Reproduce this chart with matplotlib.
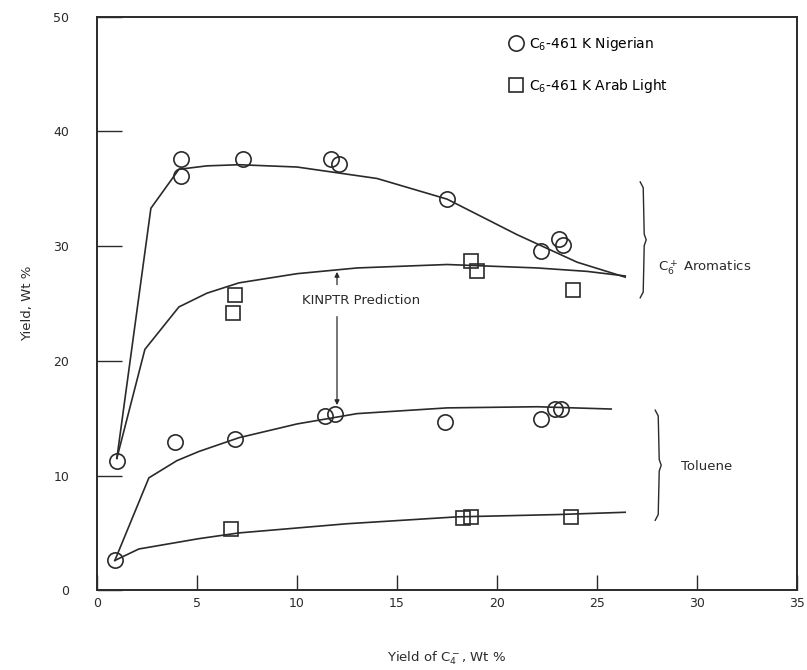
import matplotlib.pyplot as plt
from matplotlib.lines import Line2D

nig_aro_x = [1.0, 4.2, 4.2, 7.3, 11.7, 12.1, 17.5, 22.2, 23.1, 23.3]
nig_aro_y = [11.3, 37.6, 36.1, 37.6, 37.6, 37.2, 34.1, 29.6, 30.6, 30.1]
nig_tol_x = [0.9, 3.9, 6.9, 11.4, 11.9, 17.4, 22.2, 22.9, 23.2]
nig_tol_y = [2.6, 12.9, 13.2, 15.2, 15.4, 14.7, 14.9, 15.8, 15.8]
arab_aro_x = [6.8, 6.9, 18.7, 19.0, 23.8]
arab_aro_y = [24.2, 25.7, 28.7, 27.8, 26.2]
arab_tol_x = [6.7, 18.3, 18.7, 23.7]
arab_tol_y = [5.3, 6.3, 6.4, 6.4]

# --- KINPTR prediction curves ---
pred_nig_aro_x = [1.0, 2.7, 4.1, 5.5, 7.1, 10.0, 14.0, 17.5, 21.0, 24.0, 26.4]
pred_nig_aro_y = [11.5, 33.3, 36.7, 37.0, 37.1, 36.9, 35.9, 34.1, 31.0, 28.6, 27.3]
pred_arab_aro_x = [1.0, 2.4, 4.1, 5.5, 7.1, 10.0, 13.0, 17.5, 22.0, 24.5, 26.4]
pred_arab_aro_y = [11.5, 21.0, 24.7, 25.9, 26.8, 27.6, 28.1, 28.4, 28.1, 27.8, 27.4]
pred_nig_tol_x = [0.9, 2.6, 4.0, 5.1, 7.1, 10.0, 13.0, 17.5, 22.0, 25.7]
pred_nig_tol_y = [2.6, 9.8, 11.3, 12.1, 13.3, 14.5, 15.4, 15.9, 16.0, 15.8]
pred_arab_tol_x = [0.9, 2.1, 5.1, 7.1, 12.5, 18.0, 23.0, 26.4]
pred_arab_tol_y = [2.6, 3.6, 4.5, 5.0, 5.8, 6.4, 6.6, 6.8]

ink = '#2a2a2a'
plt.rcParams['font.family'] = 'DejaVu Sans'

fig = plt.figure(figsize=(8.07, 6.70), dpi=100)
ax = fig.add_axes([0.120, 0.119, 0.868, 0.856])

for xs, ys in [(pred_nig_aro_x, pred_nig_aro_y), (pred_arab_aro_x, pred_arab_aro_y),
               (pred_nig_tol_x, pred_nig_tol_y), (pred_arab_tol_x, pred_arab_tol_y)]:
    ax.plot(xs, ys, color=ink, lw=1.2, zorder=2)

circ = dict(marker='o', ls='none', ms=11, mfc='none', mec=ink, mew=1.2, zorder=3)
sq = dict(marker='s', ls='none', ms=10.5, mfc='none', mec=ink, mew=1.2, zorder=3)
ax.plot(nig_aro_x, nig_aro_y, **circ)
ax.plot(nig_tol_x, nig_tol_y, **circ)
ax.plot(arab_aro_x, arab_aro_y, **sq)
ax.plot(arab_tol_x, arab_tol_y, **sq)

# KINPTR annotation with arrows
ax.text(13.2, 25.3, 'KINPTR Prediction', fontsize=9.5, color=ink, ha='center', va='center')
ax.annotate('', xy=(12.0, 28.0), xytext=(12.0, 26.4),
            arrowprops=dict(arrowstyle='-|>', color=ink, lw=0.9, mutation_scale=7))
ax.annotate('', xy=(12.0, 15.9), xytext=(12.0, 24.1),
            arrowprops=dict(arrowstyle='-|>', color=ink, lw=0.9, mutation_scale=7))

# braces
def brace(x, y0, y1):
    ym = (y0 + y1) / 2
    xs = [x - 0.15, x, x + 0.05, x + 0.15, x + 0.05, x, x - 0.15]
    ys = [y1, y1 - 0.5, ym + 0.5, ym, ym - 0.5, y0 + 0.5, y0]
    ax.plot(xs, ys, color=ink, lw=1.0)

brace(27.3, 25.5, 35.6)
brace(28.05, 6.1, 15.7)
ax.text(28.05, 28.1, 'C$_6^+$ Aromatics', fontsize=9.5, color=ink, va='center')
ax.text(29.2, 10.8, 'Toluene', fontsize=9.5, color=ink, va='center')

# legend
handles = [Line2D([], [], **circ), Line2D([], [], **sq)]
ax.legend(handles, ['C$_6$-461 K Nigerian', 'C$_6$-461 K Arab Light'],
          loc='upper left', bbox_to_anchor=(0.568, 0.99), frameon=False,
          fontsize=10, handletextpad=0.4, labelspacing=1.75, handlelength=1.2)

ax.set_xlim(0, 35)
ax.set_ylim(0, 50)
ax.set_xticks(range(0, 36, 5))
ax.set_yticks(range(0, 51, 10))
ax.tick_params(axis='y', direction='in', length=18, width=1.0, pad=20, labelsize=9, colors=ink)
ax.tick_params(axis='x', direction='in', length=11, width=1.0, pad=5, labelsize=9, colors=ink)
for s in ax.spines.values():
    s.set_linewidth(1.4)
    s.set_color(ink)

ax.set_xlabel('Yield of C$_4^-$, Wt %', fontsize=9.5, color=ink, labelpad=28)
ax.set_ylabel('Yield, Wt %', fontsize=9.5, color=ink, labelpad=14)

fig.savefig('out.png', dpi=100)
